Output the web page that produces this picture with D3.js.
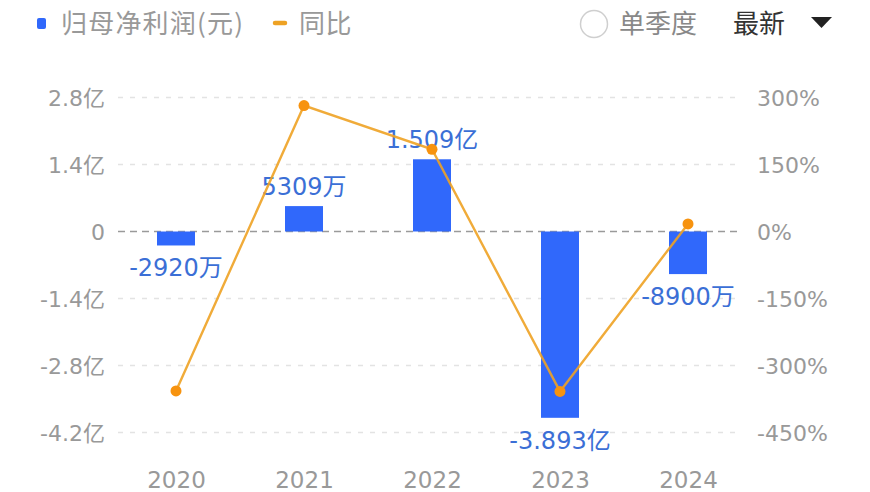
<!DOCTYPE html>
<html><head><meta charset="utf-8">
<script src="https://cdn.jsdelivr.net/npm/d3@7"></script>
<style>
html,body{margin:0;padding:0;background:#fff;}
svg{display:block;}
</style></head>
<body>
<svg id="chart" width="870" height="492"></svg>
<script>
// ---- data ----
const years = ["2020", "2021", "2022", "2023", "2024"];
const profit = [-0.292, 0.5309, 1.509, -3.893, -0.89];       // 亿元
const yoy = [-357, 282, 184, -358, 17];                       // %
const leftTicks = [-4.2, -2.8, -1.4, 0, 1.4, 2.8];
const rightTicks = [-450, -300, -150, 0, 150, 300];
const legendItems = ["归母净利润(元)", "同比"];

const numFont = '"DejaVu Sans", "Noto Sans CJK SC", sans-serif';
const cjkFont = '"Noto Sans CJK SC", sans-serif';
const svg = d3.select("#chart");

const x = d3.scalePoint().domain(years).range([112, 752]).padding(0.5);
const yL = d3.scaleLinear().domain([-4.2, 2.8]).range([432.5, 97.5]);
const yR = d3.scaleLinear().domain([-450, 300]).range([432.5, 97.5]);
const gx0 = 118, gx1 = 740, barW = 38;

// gridlines
svg.append("g").selectAll("line").data(leftTicks).join("line")
  .attr("x1", gx0).attr("x2", gx1)
  .attr("y1", d => yL(d)).attr("y2", d => yL(d))
  .attr("stroke", d => d === 0 ? "#9a9a9a" : "#e3e3e3")
  .attr("stroke-width", d => d === 0 ? 1.6 : 1.3)
  .attr("stroke-dasharray", d => d === 0 ? "7,5" : "5,7");

// left axis
const fmtL = d => d === 0 ? "0" : d.toFixed(1) + "亿";
const axL = d3.axisLeft(yL).tickValues(leftTicks).tickFormat(fmtL).tickSize(0).tickPadding(0);
const gL = svg.append("g").attr("transform", "translate(105,0)").call(axL);
gL.select(".domain").remove();
gL.selectAll("text").attr("font-family", numFont).attr("font-size", 22).attr("fill", "#999").attr("dy", "0.35em");

// right axis
const axR = d3.axisRight(yR).tickValues(rightTicks).tickFormat(d => d + "%").tickSize(0).tickPadding(0);
const gR = svg.append("g").attr("transform", "translate(757,0)").call(axR);
gR.select(".domain").remove();
gR.selectAll("text").attr("font-family", numFont).attr("font-size", 22).attr("fill", "#999").attr("dy", "0.35em");

// x axis
const axX = d3.axisBottom(x).tickSize(0).tickPadding(0);
const gX = svg.append("g").attr("transform", "translate(0,488)").call(axX);
gX.select(".domain").remove();
gX.selectAll("text").attr("font-family", numFont).attr("font-size", 23).attr("fill", "#999").attr("dy", "0");

// bars
svg.append("g").selectAll("rect").data(years).join("rect")
  .attr("x", d => x(d) - barW / 2)
  .attr("width", barW)
  .attr("y", (d, i) => Math.min(yL(profit[i]), yL(0)))
  .attr("height", (d, i) => Math.abs(yL(profit[i]) - yL(0)))
  .attr("fill", "#3068fb");

// bar labels
const fmtV = v => Math.abs(v) < 1 ? Math.round(v * 10000) + "万" : v.toFixed(3) + "亿";
svg.append("g").selectAll("text").data(years).join("text")
  .attr("x", d => x(d))
  .attr("y", (d, i) => profit[i] >= 0 ? yL(profit[i]) - 11 : yL(profit[i]) + 31)
  .attr("text-anchor", "middle")
  .attr("font-family", numFont).attr("font-size", 24)
  .attr("fill", "#3b6fd6")
  .text((d, i) => fmtV(profit[i]));

// yoy line
const line = d3.line().x(d => x(d.year)).y(d => yR(d.v));
const pts = years.map((y, i) => ({ year: y, v: yoy[i] }));
svg.append("path").datum(pts).attr("d", line)
  .attr("fill", "none").attr("stroke", "#eea224").attr("stroke-width", 2.4)
  .attr("stroke-opacity", 0.9);
svg.append("g").selectAll("circle").data(pts).join("circle")
  .attr("cx", d => x(d.year)).attr("cy", d => yR(d.v)).attr("r", 5.5)
  .attr("fill", "#f7930f");

// legend
const lg = svg.append("g");
lg.append("rect").attr("x", 37).attr("y", 18).attr("width", 9).attr("height", 11).attr("rx", 2).attr("fill", "#3068fb");
lg.append("text").attr("x", 61).attr("y", 33).attr("font-family", cjkFont).attr("font-size", 26).attr("letter-spacing", 1.2).attr("fill", "#999").text(legendItems[0]);
lg.append("line").attr("x1", 275).attr("x2", 285).attr("y1", 23).attr("y2", 23)
  .attr("stroke", "#eea224").attr("stroke-width", 4.5).attr("stroke-linecap", "round");
lg.append("text").attr("x", 299).attr("y", 33).attr("font-family", cjkFont).attr("font-size", 26).attr("letter-spacing", 0.5).attr("fill", "#999").text(legendItems[1]);

// controls
lg.append("circle").attr("cx", 594).attr("cy", 24).attr("r", 13.5).attr("fill", "#fff").attr("stroke", "#cfcfcf").attr("stroke-width", 1.5);
lg.append("text").attr("x", 619).attr("y", 33).attr("font-family", cjkFont).attr("font-size", 26).attr("fill", "#888").text("单季度");
lg.append("text").attr("x", 733).attr("y", 33).attr("font-family", cjkFont).attr("font-size", 26).attr("fill", "#333").text("最新");
lg.append("path").attr("d", "M811,17 L832,17 L821.5,28 Z").attr("fill", "#222");
</script>
</body></html>
